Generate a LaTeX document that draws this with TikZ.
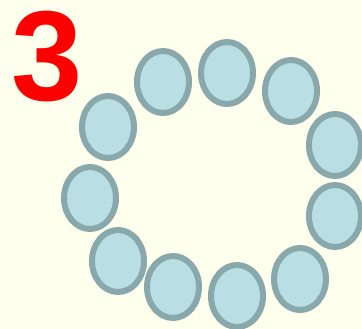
\documentclass[tikz,border=0pt]{standalone}
\usepackage{fontspec}
\setmainfont{Liberation Sans}
\usetikzlibrary{shapes.geometric}
\definecolor{paper}{HTML}{FFFFEE}
\definecolor{beadfill}{HTML}{B9DFE4}
\definecolor{beadline}{HTML}{88A8AC}
\definecolor{numred}{HTML}{FF0000}

\begin{document}
\begin{tikzpicture}[x=1pt, y=-1pt,
  bead/.style={ellipse, draw=beadline, fill=beadfill, line width=6pt, minimum width=52pt, minimum height=62pt, inner sep=0pt}
]
  % background
  \fill[paper] (0,0) rectangle (362,329);
  \useasboundingbox (0,0) rectangle (362,329);

  % the number
  \node[anchor=base west, inner sep=0pt, text=numred, font=\fontsize{128}{128}\selectfont\bfseries] (num) at (11,101) {3};

  % ring of beads
  \node[bead] (b1) at (163,82) {};
  \node[bead] (b2) at (227,73) {};
  \node[bead] (b3) at (291,91) {};
  \node[bead] (b4) at (335,145) {};
  \node[bead] (b5) at (335,216) {};
  \node[bead] (b6) at (300,279) {};
  \node[bead] (b7) at (237,296) {};
  \node[bead] (b8) at (173,287) {};
  \node[bead] (b9) at (118,261) {};
  \node[bead] (b10) at (90,198) {};
  \node[bead] (b11) at (108,127) {};
\end{tikzpicture}
\end{document}
